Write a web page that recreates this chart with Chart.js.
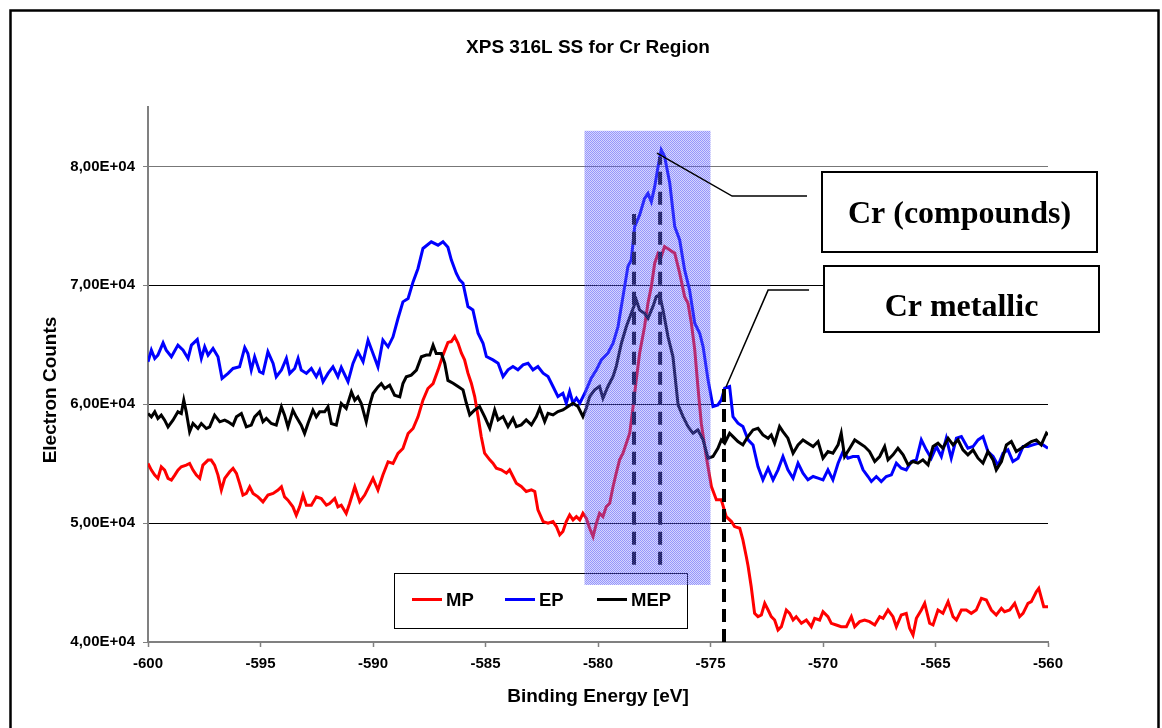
<!doctype html>
<html lang="en">
<head>
<meta charset="UTF-8">
<title>XPS 316L SS for Cr Region</title>
<script src="https://cdn.jsdelivr.net/npm/chart.js"></script>
<style>
html,body{margin:0;padding:0;background:#fff;}
canvas{display:block;}
</style>
</head>
<body>
<canvas id="chart" width="1162" height="728"></canvas>
<script>
/* ---------- data: binding energy [eV] / electron counts ---------- */
const mpEnergy = [
  -600.00,-599.85,-599.70,-599.56,-599.41,-599.26,-599.11,-598.96,-598.81,-598.67,-598.52,-598.30,-598.15,-598.00,-597.85,-597.70,
  -597.56,-597.33,-597.19,-597.04,-596.89,-596.74,-596.59,-596.37,-596.22,-596.07,-595.93,-595.78,-595.63,-595.48,-595.33,-595.11,
  -594.89,-594.67,-594.44,-594.22,-594.07,-593.93,-593.78,-593.56,-593.41,-593.26,-593.11,-592.96,-592.74,-592.52,-592.30,-592.07,
  -591.93,-591.70,-591.56,-591.41,-591.19,-591.04,-590.81,-590.59,-590.37,-590.22,-590.00,-589.78,-589.56,-589.33,-589.11,-588.89,
  -588.67,-588.44,-588.22,-588.00,-587.78,-587.56,-587.33,-587.11,-586.89,-586.67,-586.52,-586.37,-586.22,-586.07,-585.93,-585.78,
  -585.63,-585.48,-585.33,-585.19,-585.04,-584.81,-584.67,-584.52,-584.30,-584.07,-583.93,-583.78,-583.63,-583.41,-583.19,-582.96,
  -582.81,-582.67,-582.44,-582.22,-582.00,-581.85,-581.70,-581.56,-581.41,-581.26,-581.11,-580.96,-580.81,-580.67,-580.52,-580.37,
  -580.22,-580.07,-579.93,-579.78,-579.63,-579.48,-579.33,-579.19,-579.04,-578.89,-578.74,-578.59,-578.44,-578.30,-578.15,-577.93,
  -577.78,-577.63,-577.48,-577.33,-577.19,-577.04,-576.81,-576.59,-576.37,-576.15,-576.00,-575.85,-575.70,-575.56,-575.41,-575.19,
  -574.96,-574.74,-574.52,-574.30,-574.07,-573.93,-573.70,-573.56,-573.41,-573.33,-573.19,-573.04,-572.89,-572.74,-572.59,-572.44,
  -572.30,-572.15,-572.00,-571.85,-571.63,-571.48,-571.33,-571.19,-570.96,-570.74,-570.52,-570.37,-570.15,-570.00,-569.78,-569.63,
  -569.41,-569.19,-568.96,-568.74,-568.59,-568.37,-568.15,-567.93,-567.70,-567.48,-567.33,-567.11,-566.89,-566.74,-566.52,-566.30,
  -566.15,-566.00,-565.85,-565.63,-565.48,-565.26,-565.11,-564.89,-564.67,-564.44,-564.22,-564.07,-563.85,-563.63,-563.41,-563.19,
  -562.96,-562.74,-562.52,-562.30,-562.07,-561.93,-561.70,-561.48,-561.26,-561.11,-560.89,-560.74,-560.52,-560.41,-560.19,-560.00
];
const mpCounts = [
  55020,54460,54040,53760,54740,54460,53760,53620,54040,54460,54740,54880,55020,54460,54040,53760,
  54880,55300,55300,54880,54040,52780,53760,54320,54600,54180,53340,52360,52500,53060,52500,52210,
  51790,52360,52500,52780,53060,52210,51930,51370,50670,51370,52360,51510,51510,52210,52070,51510,
  51650,52070,51370,51510,50810,51650,53060,51790,52360,52920,53760,52780,54040,55160,55020,55860,
  56280,57540,57960,58940,60340,61320,61740,62870,64130,65200,65270,65690,65130,64290,63730,62610,
  61770,60640,58960,57280,55880,55320,55040,54620,54480,54200,54480,53920,53360,53080,52660,52800,
  52660,51110,50130,49990,50130,49710,49010,49290,50130,50690,50270,50550,50270,50830,50410,49570,
  48870,49990,50830,50550,51390,51670,53080,54200,55320,55880,56720,57560,59800,62050,64290,66530,
  68490,69890,71860,72700,72420,73260,72980,72700,71020,69050,68490,66810,64570,61490,58400,55600,
  53080,51960,51960,50550,50130,49710,49570,48590,47190,46400,44650,42410,42130,42270,43250,42690,
  42130,41850,41010,41290,42690,42410,41850,42130,41570,41850,41290,41990,41850,42550,42130,41570,
  41430,41290,41290,42130,41290,41710,41850,41710,41430,42130,41990,42690,42130,41290,42270,42410,
  41150,40590,41990,42690,43250,41570,41430,42690,42410,43390,42130,41850,42690,42690,42410,42690,
  43670,43530,42690,42270,42830,42550,42690,43250,42130,42410,43250,43390,44230,44510,42970,42970
];

const epEnergy = [
  -600.00,-599.85,-599.70,-599.56,-599.33,-599.19,-598.96,-598.67,-598.44,-598.22,-598.07,-597.81,-597.63,-597.48,-597.33,-597.11,
  -596.89,-596.71,-596.44,-596.22,-595.93,-595.70,-595.56,-595.41,-595.26,-595.04,-594.89,-594.67,-594.44,-594.30,-594.07,-593.85,
  -593.70,-593.48,-593.33,-593.19,-592.96,-592.74,-592.52,-592.37,-592.22,-592.00,-591.78,-591.56,-591.41,-591.11,-590.89,-590.67,
  -590.44,-590.22,-590.00,-589.78,-589.56,-589.33,-589.11,-588.89,-588.67,-588.44,-588.22,-588.00,-587.78,-587.41,-587.11,-586.89,
  -586.67,-586.52,-586.30,-586.15,-586.00,-585.78,-585.56,-585.33,-585.11,-584.96,-584.67,-584.44,-584.22,-584.00,-583.78,-583.56,
  -583.33,-583.11,-582.89,-582.67,-582.44,-582.22,-582.00,-581.78,-581.56,-581.41,-581.26,-581.11,-580.96,-580.81,-580.59,-580.30,
  -580.07,-579.85,-579.56,-579.33,-579.11,-578.89,-578.67,-578.52,-578.37,-578.15,-577.93,-577.78,-577.63,-577.48,-577.33,-577.19,
  -577.04,-576.81,-576.59,-576.37,-576.15,-575.93,-575.70,-575.48,-575.33,-575.11,-574.89,-574.67,-574.52,-574.37,-574.15,-574.00,
  -573.78,-573.56,-573.33,-573.11,-572.89,-572.67,-572.44,-572.22,-572.00,-571.78,-571.56,-571.33,-571.11,-570.89,-570.67,-570.44,
  -570.22,-570.00,-569.78,-569.56,-569.33,-569.11,-568.89,-568.67,-568.44,-568.22,-568.00,-567.85,-567.63,-567.41,-567.19,-566.96,
  -566.74,-566.52,-566.30,-566.07,-565.85,-565.63,-565.41,-565.19,-564.96,-564.74,-564.52,-564.30,-564.07,-563.85,-563.56,-563.33,
  -563.11,-562.89,-562.67,-562.44,-562.22,-562.00,-561.78,-561.56,-561.33,-561.11,-560.89,-560.67,-560.44,-560.22,-560.00
];
const epCounts = [
  63570,64550,63850,64130,65160,64550,63990,64970,64550,63850,64970,65440,63850,64830,64130,64690,
  63990,62170,62590,63010,63150,64770,64270,62870,63990,62730,62590,64410,63430,62310,62870,63850,
  62590,63010,63850,62870,62590,63010,62310,62870,61890,62590,63150,62310,63090,61890,63430,64410,
  63570,65390,64270,63150,65390,64830,65670,67210,68610,68890,70290,71420,73100,73660,73380,73660,
  73200,72140,71020,70460,70170,68210,67930,65970,65130,64010,63730,63450,62330,62890,63170,62890,
  63310,63450,62890,63170,62610,62330,61490,60640,60920,60080,61070,60080,60500,60080,60920,62190,
  62890,63730,64290,65130,66530,69050,71580,72140,74940,75920,77320,77740,77040,78300,79990,81390,
  80830,78580,74940,73820,71300,69610,66810,65970,64850,62050,59800,59940,60360,61350,61490,58960,
  58400,58120,57000,56580,54760,53640,54620,53640,54480,55600,54480,53780,55040,54200,53640,53920,
  53780,53640,54480,53640,55040,56020,55460,55600,55600,54480,53920,53500,53920,53500,53920,54060,
  55040,54620,54480,55180,55320,57000,56160,55460,56440,55600,57140,55460,57140,57280,56300,56440,
  57000,57280,56020,55600,54850,55880,56160,55180,55460,56440,56440,56580,56720,56580,56300
];

const mepEnergy = [
  -600.00,-599.85,-599.70,-599.56,-599.41,-599.26,-599.11,-598.89,-598.67,-598.52,-598.41,-598.30,-598.15,-598.00,-597.78,-597.63,
  -597.41,-597.26,-597.04,-596.81,-596.59,-596.44,-596.22,-596.07,-595.85,-595.63,-595.41,-595.26,-595.04,-594.89,-594.74,-594.52,
  -594.30,-594.07,-593.93,-593.78,-593.56,-593.41,-593.19,-593.04,-592.89,-592.67,-592.52,-592.37,-592.15,-592.00,-591.85,-591.63,
  -591.41,-591.19,-590.96,-590.81,-590.67,-590.52,-590.30,-590.15,-590.00,-589.78,-589.63,-589.48,-589.26,-589.04,-588.81,-588.67,
  -588.52,-588.30,-588.07,-587.85,-587.63,-587.48,-587.33,-587.19,-586.96,-586.81,-586.67,-586.44,-586.22,-586.00,-585.85,-585.70,
  -585.48,-585.26,-585.04,-584.81,-584.59,-584.44,-584.22,-584.00,-583.78,-583.63,-583.41,-583.19,-582.96,-582.74,-582.59,-582.37,
  -582.22,-582.00,-581.78,-581.56,-581.33,-581.11,-580.89,-580.67,-580.52,-580.37,-580.15,-579.93,-579.78,-579.56,-579.33,-579.19,
  -578.96,-578.74,-578.52,-578.30,-578.15,-577.93,-577.78,-577.56,-577.41,-577.26,-577.11,-576.89,-576.67,-576.44,-576.22,-576.00,
  -575.78,-575.56,-575.33,-575.11,-574.89,-574.67,-574.52,-574.37,-574.15,-574.00,-573.78,-573.56,-573.33,-573.11,-572.89,-572.67,
  -572.44,-572.30,-572.15,-571.93,-571.78,-571.56,-571.33,-571.11,-570.89,-570.67,-570.44,-570.22,-570.00,-569.78,-569.56,-569.33,
  -569.19,-569.04,-568.81,-568.59,-568.37,-568.15,-567.93,-567.70,-567.48,-567.26,-567.11,-566.89,-566.67,-566.44,-566.22,-566.00,
  -565.78,-565.56,-565.33,-565.11,-564.89,-564.67,-564.44,-564.22,-564.00,-563.78,-563.56,-563.33,-563.11,-562.89,-562.67,-562.44,
  -562.30,-562.07,-561.85,-561.63,-561.41,-561.19,-560.96,-560.74,-560.52,-560.30,-560.07,-560.00
];
const mepCounts = [
  59220,58940,59360,58800,59080,58660,58100,58660,59360,59220,60340,59360,57680,58380,57960,58380,
  57960,58100,59080,58520,58660,58520,58240,58940,59220,58100,58240,58940,59360,58520,58800,58380,
  58240,59780,59080,58100,59500,58940,58240,57540,58380,59500,58940,59360,59360,59780,58380,58240,
  60060,59640,61040,60340,60620,60060,58520,59920,60900,61460,61740,61320,61600,60760,60620,61740,
  62310,62450,62870,63990,64130,64130,64970,64270,64270,63430,62000,61770,61490,61210,60080,59100,
  59520,59800,58960,57980,59520,58680,58960,58120,58820,58120,58260,58680,58260,58960,59660,58540,
  59240,59100,59380,59520,59800,60080,59800,58960,59660,60640,61210,61490,60500,61490,62330,63170,
  65130,66530,67650,68770,67930,67650,67230,68210,69050,69190,67930,65690,64010,59940,58960,58120,
  57560,57840,57000,55460,55600,56300,57000,56720,57560,57280,56860,56580,57300,57840,57980,57420,
  57140,57420,56720,58120,57700,57140,55880,56580,57000,56720,56440,56860,55460,56020,55880,56580,
  57560,55600,56300,57000,56720,56440,56020,55180,55600,56440,55320,55740,56300,55740,54900,55180,
  55040,55320,54900,56440,56720,56300,57140,56580,57000,56160,55740,56160,55460,55040,56020,55320,
  54480,55180,56580,56860,56020,56300,56580,56860,57000,56580,57560,57420
];

/* axis ticks */
const energyTicks = [-600,-595,-590,-585,-580,-575,-570,-565,-560];
const countTicks  = [40000,50000,60000,70000,80000];

/* vertical dashed marker lines (peak positions) */
const markerEnergy = [-578.4, -577.24, -574.4];
const markerTop    = [76000, 80800, 61400];
const markerBottom = [46500, 46500, 40000];

/* highlighted Cr(III)/Cr(VI) window */
const shadeEnergy = [-580.6, -575.0];
const shadeCounts = [44800, 83000];

const FONT  = "'Liberation Sans', Arial, Helvetica, sans-serif";
const SERIF = "'Liberation Serif', 'Times New Roman', serif";

const pts = (xs, ys) => xs.map((x, i) => ({x, y: ys[i]}));

const series = [
  {label:'MP',  color:'#ff0000', data:pts(mpEnergy, mpCounts),   order:3},
  {label:'EP',  color:'#0000ff', data:pts(epEnergy, epCounts),   order:2},
  {label:'MEP', color:'#000000', data:pts(mepEnergy, mepCounts), order:1}
];

const datasets = series.map(s => ({
  label:s.label, data:s.data, borderColor:s.color, backgroundColor:s.color,
  borderWidth:3, pointRadius:0, tension:0, order:s.order
}));
markerEnergy.forEach((e, i) => datasets.push({
  label:'marker' + i,
  data:[{x:e, y:markerBottom[i]}, {x:e, y:markerTop[i]}],
  borderColor:'#000', borderWidth:4, borderDash:[13,7], pointRadius:0, order:0
}));

/* callouts: leader lines in data units, boxes in page pixels */
const callouts = [
  {text:'Cr (compounds)', path:[[-577.38,81120],[-574.04,77510],[-570.71,77510]], box:[822,172,275,80], base:223},
  {text:'Cr metallic',    path:[[-574.31,61450],[-572.44,69600],[-570.62,69600]], box:[824,266,275,66], base:316}
];

/* dotted fill for the highlighted window */
function dotPattern(ctx){
  const c = document.createElement('canvas');
  c.width = 2; c.height = 2;
  const g = c.getContext('2d');
  g.fillStyle = 'rgba(120,120,250,0.3)';
  g.fillRect(0,0,2,2);
  g.clearRect(0,0,1,1);
  g.clearRect(1,1,1,1);
  g.fillStyle = 'rgba(80,80,250,0.6)';
  g.fillRect(0,0,1,1);
  g.fillRect(1,1,1,1);
  return ctx.createPattern(c, 'repeat');
}

const decor = {
  id:'decor',
  beforeDraw(chart){
    const ctx = chart.ctx;
    ctx.save();
    ctx.fillStyle = '#fff';
    ctx.fillRect(0,0,chart.width,chart.height);
    ctx.restore();
  },
  afterDatasetsDraw(chart){
    const {ctx, scales:{x, y}} = chart;
    ctx.save();

    // legend
    ctx.fillStyle = '#fff';
    ctx.fillRect(394,573,293,55);
    ctx.strokeStyle = '#000';
    ctx.lineWidth = 1;
    ctx.strokeRect(394.5,573.5,293,55);
    const lx = [412, 505, 597];
    ctx.font = 'bold 18.5px ' + FONT;
    ctx.textBaseline = 'middle';
    ctx.textAlign = 'left';
    series.forEach((s, i) => {
      ctx.strokeStyle = s.color;
      ctx.lineWidth = 3;
      ctx.beginPath();
      ctx.moveTo(lx[i], 599.5);
      ctx.lineTo(lx[i] + 30, 599.5);
      ctx.stroke();
      ctx.fillStyle = '#000';
      ctx.fillText(s.label, lx[i] + 34, 601);
    });

    // highlighted window, laid over the curves
    const x0 = x.getPixelForValue(shadeEnergy[0]), x1 = x.getPixelForValue(shadeEnergy[1]);
    const y0 = y.getPixelForValue(shadeCounts[1]), y1 = y.getPixelForValue(shadeCounts[0]);
    ctx.fillStyle = dotPattern(ctx);
    ctx.fillRect(x0, y0, x1 - x0, y1 - y0);

    // callouts
    callouts.forEach(c => {
      ctx.strokeStyle = '#000';
      ctx.lineWidth = 1.5;
      ctx.beginPath();
      c.path.forEach(([e, v], i) => {
        const px = x.getPixelForValue(e), py = y.getPixelForValue(v);
        i ? ctx.lineTo(px, py) : ctx.moveTo(px, py);
      });
      ctx.stroke();
      const [bx, by, bw, bh] = c.box;
      ctx.fillStyle = '#fff';
      ctx.fillRect(bx, by, bw, bh);
      ctx.lineWidth = 2;
      ctx.strokeRect(bx, by, bw, bh);
      ctx.fillStyle = '#000';
      ctx.font = 'bold 32px ' + SERIF;
      ctx.textAlign = 'center';
      ctx.textBaseline = 'alphabetic';
      ctx.fillText(c.text, bx + bw / 2, c.base);
    });
    ctx.restore();
  },
  afterDraw(chart){
    const ctx = chart.ctx;
    ctx.save();
    ctx.fillStyle = '#000';
    ctx.textAlign = 'center';
    ctx.textBaseline = 'alphabetic';
    ctx.font = 'bold 19px ' + FONT;
    ctx.fillText('XPS 316L SS for Cr Region', 588, 53);
    ctx.fillText('Binding Energy [eV]', 598, 702);
    ctx.translate(56, 390);
    ctx.rotate(-Math.PI / 2);
    ctx.fillText('Electron Counts', 0, 0);
    ctx.restore();

    // outer frame
    ctx.save();
    ctx.strokeStyle = '#000';
    ctx.lineWidth = 2.5;
    ctx.strokeRect(10.5, 10.5, 1148, 760);
    ctx.restore();
  }
};

const tickFont = {family:FONT, size:15, weight:'bold'};

new Chart(document.getElementById('chart'), {
  type:'line',
  data:{datasets},
  options:{
    responsive:false,
    animation:false,
    devicePixelRatio:1,
    layout:{padding:{left:0, top:107, right:114, bottom:0}},
    plugins:{legend:{display:false}, title:{display:false}, tooltip:{enabled:false}},
    scales:{
      x:{
        type:'linear', min:-600, max:-560,
        afterBuildTicks(s){ s.ticks = energyTicks.map(value => ({value})); },
        ticks:{color:'#000', font:tickFont, padding:8, maxRotation:0},
        grid:{drawOnChartArea:false, tickLength:5, tickColor:'#808080', tickWidth:1.5},
        border:{color:'#808080', width:2},
        afterFit(s){ s.height = 86; }
      },
      y:{
        type:'linear', min:40000, max:85000,
        afterBuildTicks(s){ s.ticks = countTicks.map(value => ({value})); },
        ticks:{
          color:'#000', font:tickFont, padding:8,
          callback:v => (v / 1e4).toFixed(2).replace('.', ',') + 'E+04'
        },
        grid:{
          color:c => (c.tick && c.tick.value === 80000) ? '#777' : '#000',
          lineWidth:1, tickLength:5, tickColor:'#808080'
        },
        border:{color:'#808080', width:2},
        afterFit(s){ s.width = 148; }
      }
    }
  },
  plugins:[decor]
});
</script>
</body>
</html>
